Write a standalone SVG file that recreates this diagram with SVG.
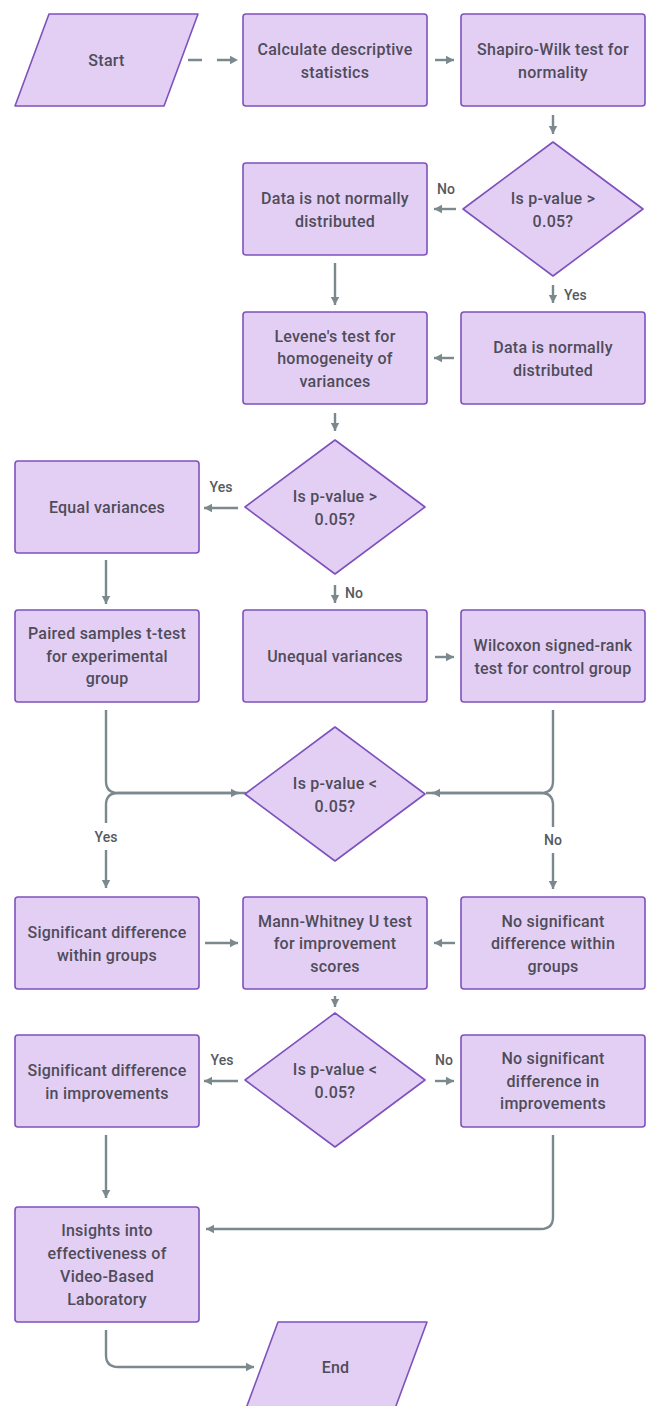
<svg xmlns="http://www.w3.org/2000/svg" width="646" height="1406" viewBox="0 0 646 1406">
<style>
.box{fill:#e3cff4;stroke:#7e52bd;stroke-width:1.6;stroke-linejoin:round}
.t{font-family:Roboto,"Liberation Sans",sans-serif;font-weight:500;font-size:16px;letter-spacing:0.25px;fill:#4f4c5a;text-anchor:middle;dominant-baseline:central}
.lbl{font-family:Roboto,"Liberation Sans",sans-serif;font-weight:500;font-size:14px;fill:#555a5e;dominant-baseline:central}
.c{fill:none;stroke:#7b898e;stroke-width:2.4}
</style>
<defs>
<marker id="ah" markerUnits="userSpaceOnUse" markerWidth="10" markerHeight="10" refX="8" refY="5" orient="auto">
<path d="M0,0.8 L8,5 L0,9.2 z" fill="#7b898e"/>
</marker>
</defs>
<rect width="646" height="1406" fill="#ffffff"/>
<g id="connectors">
<path class="c" d="M188,60 H238" stroke-dasharray="14 15" marker-end="url(#ah)"/>
<path class="c" d="M435,60 H454" marker-end="url(#ah)"/>
<path class="c" d="M553,115 V134" marker-end="url(#ah)"/>
<path class="c" d="M456,209 H434" marker-end="url(#ah)"/>
<text class="lbl" x="446" y="189" text-anchor="middle">No</text>
<path class="c" d="M553,285 V303" marker-end="url(#ah)"/>
<text class="lbl" x="564" y="295">Yes</text>
<path class="c" d="M335,263 V305" marker-end="url(#ah)"/>
<path class="c" d="M454,358 H434" marker-end="url(#ah)"/>
<path class="c" d="M335,413 V431" marker-end="url(#ah)"/>
<path class="c" d="M238,508 H204" marker-end="url(#ah)"/>
<text class="lbl" x="221" y="487" text-anchor="middle">Yes</text>
<path class="c" d="M335,585 V603" marker-end="url(#ah)"/>
<text class="lbl" x="345" y="593">No</text>
<path class="c" d="M106,560 V604" marker-end="url(#ah)"/>
<path class="c" d="M435,657 H454" marker-end="url(#ah)"/>
<path class="c" d="M106,710 V781 Q106,793 118,793 H239" marker-end="url(#ah)"/>
<path class="c" d="M246,793 H118 Q106,793 106,805 V823"/>
<path class="c" d="M106,850 V888" marker-end="url(#ah)"/>
<text class="lbl" x="106" y="837" text-anchor="middle">Yes</text>
<path class="c" d="M553,710 V781 Q553,793 541,793 H432" marker-end="url(#ah)"/>
<path class="c" d="M426,793 H541 Q553,793 553,805 V827"/>
<path class="c" d="M553,853 V889" marker-end="url(#ah)"/>
<text class="lbl" x="553" y="840" text-anchor="middle">No</text>
<path class="c" d="M205,943 H238" marker-end="url(#ah)"/>
<path class="c" d="M455,943 H434" marker-end="url(#ah)"/>
<path class="c" d="M335,996 V1007" marker-end="url(#ah)"/>
<path class="c" d="M238,1081 H204" marker-end="url(#ah)"/>
<text class="lbl" x="222" y="1060" text-anchor="middle">Yes</text>
<path class="c" d="M435,1081 H454" marker-end="url(#ah)"/>
<text class="lbl" x="444" y="1060" text-anchor="middle">No</text>
<path class="c" d="M106,1135 V1198" marker-end="url(#ah)"/>
<path class="c" d="M553,1135 V1217 Q553,1229 541,1229 H206" marker-end="url(#ah)"/>
<path class="c" d="M106,1330 V1355 Q106,1367 118,1367 H254" marker-end="url(#ah)"/>
</g>
<g id="start"><polygon class="box" points="49,14 198,14 164,106 15,106"/><text class="t" x="106.5" y="60">Start</text></g>
<g id="calc"><rect class="box" x="243" y="14" width="184" height="92" rx="3"/><text class="t" x="335" y="49">Calculate descriptive</text><text class="t" x="335" y="72">statistics</text></g>
<g id="shapiro"><rect class="box" x="461" y="14" width="184" height="92" rx="3"/><text class="t" x="553" y="49">Shapiro-Wilk test for</text><text class="t" x="553" y="72">normality</text></g>
<g id="d1"><polygon class="box" points="553,142 643,209 553,276 463,209"/><text class="t" x="553" y="198">Is p-value &gt;</text><text class="t" x="553" y="221">0.05?</text></g>
<g id="notnormal"><rect class="box" x="243" y="163" width="184" height="92" rx="3"/><text class="t" x="335" y="198">Data is not normally</text><text class="t" x="335" y="221">distributed</text></g>
<g id="levene"><rect class="box" x="243" y="312" width="184" height="92" rx="3"/><text class="t" x="335" y="336">Levene's test for</text><text class="t" x="335" y="358.5">homogeneity of</text><text class="t" x="335" y="381">variances</text></g>
<g id="normal"><rect class="box" x="461" y="312" width="184" height="92" rx="3"/><text class="t" x="553" y="347">Data is normally</text><text class="t" x="553" y="370">distributed</text></g>
<g id="d2"><polygon class="box" points="335,440 425,507 335,574 245,507"/><text class="t" x="335" y="496">Is p-value &gt;</text><text class="t" x="335" y="519">0.05?</text></g>
<g id="equal"><rect class="box" x="15" y="461" width="184" height="92" rx="3"/><text class="t" x="107" y="507">Equal variances</text></g>
<g id="paired"><rect class="box" x="15" y="610" width="184" height="92" rx="3"/><text class="t" x="107" y="633.5">Paired samples t-test</text><text class="t" x="107" y="656">for experimental</text><text class="t" x="107" y="678.5">group</text></g>
<g id="unequal"><rect class="box" x="243" y="610" width="184" height="92" rx="3"/><text class="t" x="335" y="656">Unequal variances</text></g>
<g id="wilcoxon"><rect class="box" x="461" y="610" width="184" height="92" rx="3"/><text class="t" x="553" y="645">Wilcoxon signed-rank</text><text class="t" x="553" y="668">test for control group</text></g>
<g id="d3"><polygon class="box" points="335,727 425,794 335,861 245,794"/><text class="t" x="335" y="783">Is p-value &lt;</text><text class="t" x="335" y="806">0.05?</text></g>
<g id="sigwithin"><rect class="box" x="15" y="897" width="184" height="92" rx="3"/><text class="t" x="107" y="932">Significant difference</text><text class="t" x="107" y="955">within groups</text></g>
<g id="mann"><rect class="box" x="243" y="897" width="184" height="92" rx="3"/><text class="t" x="335" y="921">Mann-Whitney U test</text><text class="t" x="335" y="943.5">for improvement</text><text class="t" x="335" y="966">scores</text></g>
<g id="nosigwithin"><rect class="box" x="461" y="897" width="184" height="92" rx="3"/><text class="t" x="553" y="921">No significant</text><text class="t" x="553" y="943.5">difference within</text><text class="t" x="553" y="966">groups</text></g>
<g id="d4"><polygon class="box" points="335,1013 425,1080 335,1147 245,1080"/><text class="t" x="335" y="1069">Is p-value &lt;</text><text class="t" x="335" y="1092">0.05?</text></g>
<g id="sigimp"><rect class="box" x="15" y="1035" width="184" height="92" rx="3"/><text class="t" x="107" y="1070">Significant difference</text><text class="t" x="107" y="1093">in improvements</text></g>
<g id="nosigimp"><rect class="box" x="461" y="1035" width="184" height="92" rx="3"/><text class="t" x="553" y="1058.5">No significant</text><text class="t" x="553" y="1081">difference in</text><text class="t" x="553" y="1103.5">improvements</text></g>
<g id="insights"><rect class="box" x="15" y="1207" width="184" height="115" rx="3"/><text class="t" x="107" y="1230">Insights into</text><text class="t" x="107" y="1253">effectiveness of</text><text class="t" x="107" y="1276">Video-Based</text><text class="t" x="107" y="1299">Laboratory</text></g>
<g id="end"><polygon class="box" points="278,1322 427,1322 393,1414 244,1414"/><text class="t" x="335.5" y="1367">End</text></g>
</svg>
